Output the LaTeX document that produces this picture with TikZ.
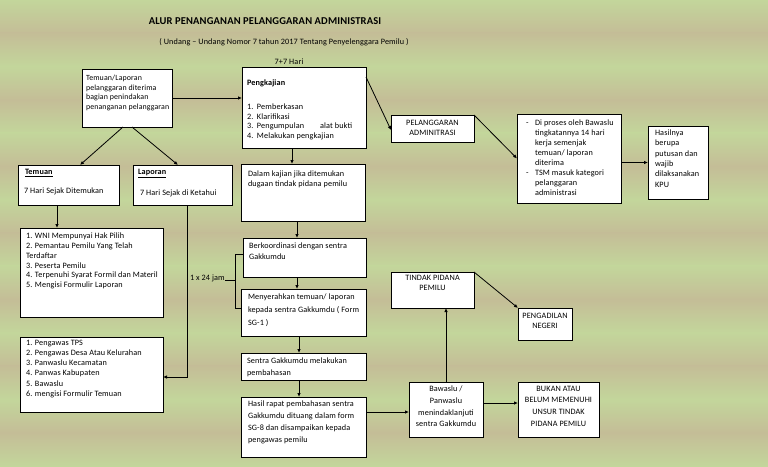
\documentclass[tikz,border=0pt]{standalone}
\usepackage{fontspec}
\setmainfont{Carlito}[LetterSpace=1.5]
\usetikzlibrary{arrows.meta,calc}
\definecolor{bggreen}{HTML}{C3D69B}
\definecolor{bgtan}{HTML}{C4BD97}
\begin{document}
\begin{tikzpicture}[x=1pt,y=-1pt,
 box/.style={draw=black,line width=0.9pt,fill=white,inner sep=0pt,outer sep=0pt,anchor=north west},
 txt/.style={inner sep=0pt,outer sep=0pt,align=left,anchor=north west,font=\fontsize{8.2}{#1}\selectfont},
 txt/.default=9.8,
 ctxt/.style={inner sep=0pt,outer sep=0pt,align=center,anchor=north,font=\fontsize{8.2}{#1}\selectfont},
 ctxt/.default=10,
 arr/.style={line width=0.8pt,-{Latex[length=4pt,width=3.5pt]}},
 ln/.style={line width=0.8pt}]
\useasboundingbox (0,0) rectangle (768,466);
\foreach \k in {0,...,6}{
 \pgfmathsetmacro\ya{66.571*\k}
 \pgfmathsetmacro\yb{66.571*\k+33.286}
 \pgfmathsetmacro\yc{66.571*(\k+1)}
 \shade[top color=bggreen,bottom color=bgtan] (-1,\ya-0.3) rectangle (769,\yb+0.3);
 \shade[top color=bgtan,bottom color=bggreen] (-1,\yb-0.3) rectangle (769,\yc+0.3);
}
% titles
\node[inner sep=0pt,font=\fontsize{10.5}{12}\selectfont\bfseries] (title) at (265,21) {ALUR PENANGANAN PELANGGARAN ADMINISTRASI};
\node[inner sep=0pt,font=\fontsize{8.2}{10}\selectfont] (sub) at (284,42) {( Undang -- Undang Nomor 7 tahun 2017 Tentang Penyelenggara Pemilu )};
\node[inner sep=0pt,font=\fontsize{8.2}{10}\selectfont] (hari) at (289,62) {7+7 Hari};

% boxes
\node[box,minimum width=90pt,minimum height=58pt] (A) at (82,69) {};
\node[box,minimum width=124pt,minimum height=81pt] (peng) at (242,67) {};
\node[box,minimum width=101pt,minimum height=40pt] (tem) at (18,165) {};
\node[box,minimum width=99pt,minimum height=40pt] (lap) at (133,165) {};
\node[box,minimum width=143pt,minimum height=89pt] (l1) at (20,228) {};
\node[box,minimum width=143pt,minimum height=75pt] (l2) at (20,337) {};
\node[box,minimum width=124pt,minimum height=57pt] (dal) at (241,164) {};
\node[box,minimum width=123pt,minimum height=39pt] (berk) at (243,238) {};
\node[box,minimum width=125pt,minimum height=47pt] (meny) at (241,289) {};
\node[box,minimum width=125pt,minimum height=27pt] (sent) at (241,353) {};
\node[box,minimum width=125pt,minimum height=60pt] (hasil) at (241,397) {};
\node[box,minimum width=74pt,minimum height=55pt] (baw) at (409,382) {};
\node[box,minimum width=81pt,minimum height=55pt] (bukan) at (518,382) {};
\node[box,minimum width=83pt,minimum height=36pt] (tindak) at (391,272) {};
\node[box,minimum width=54pt,minimum height=32pt] (pn) at (518,308) {};
\node[box,minimum width=83pt,minimum height=27pt] (pel) at (391,115) {};
\node[box,minimum width=104pt,minimum height=89pt] (dip) at (517,114) {};
\node[box,minimum width=60pt,minimum height=73pt] (has2) at (648,126) {};

% texts
\node[txt=9.6,font=\fontsize{7.9}{9.6}\selectfont] (tA) at (86,75) {Temuan/Laporan\\pelanggaran diterima\\bagian penindakan\\penanganan pelanggaran};
\node[txt] (tpeng) at (247,80) {\textbf{Pengkajian}};
\node[txt=9.5] (tpengl) at (247,104) {\makebox[10pt][l]{1.}Pemberkasan\\\makebox[10pt][l]{2.}Klarifikasi\\\makebox[10pt][l]{3.}Pengumpulan\hspace{16pt}alat bukti\\\makebox[10pt][l]{4.}Melakukan pengkajian};
\node[txt] (ttem1) at (25,169) {\underline{\textbf{Temuan}}};
\node[txt] (ttem2) at (24,188) {7 Hari Sejak Ditemukan};
\node[txt] (tlap1) at (138,169) {\underline{\textbf{Laporan}}};
\node[txt] (tlap2) at (140,190) {7 Hari Sejak di Ketahui};
\node[txt=9.8] (tl1) at (26,233) {1. WNI Mempunyai Hak Pilih\\2. Pemantau Pemilu Yang Telah\\Terdaftar\\3. Peserta Pemilu\\4. Terpenuhi Syarat Formil dan Materil\\5. Mengisi Formulir Laporan};
\node[txt=10.2] (tl2) at (26,340) {1. Pengawas TPS\\2. Pengawas Desa Atau Kelurahan\\3. Panwaslu Kecamatan\\4. Panwas Kabupaten\\5. Bawaslu\\6. mengisi Formulir Temuan};
\node[txt=10] (tdal) at (248,171) {Dalam kajian jika ditemukan\\dugaan tindak pidana pemilu};
\node[txt=11] (tberk) at (249,243) {Berkoordinasi dengan sentra\\Gakkumdu};
\node[txt=13] (tmeny) at (248,294) {Menyerahkan temuan/ laporan\\kepada sentra Gakkumdu ( Form\\SG-1 )};
\node[txt=12] (tsent) at (247,358) {Sentra Gakkumdu melakukan\\pembahasan};
\node[txt=12] (thasil) at (248,401) {Hasil rapat pembahasan sentra\\Gakkumdu dituang dalam form\\SG-8 dan disampaikan kepada\\pengawas pemilu};
\node[ctxt=11.7] (tbaw) at (446,386) {Bawaslu /\\Panwaslu\\menindaklanjuti\\sentra Gakkumdu};
\node[ctxt=11.7] (tbukan) at (558.5,386) {BUKAN ATAU\\BELUM MEMENUHI\\UNSUR TINDAK\\PIDANA PEMILU};
\node[ctxt] (ttindak) at (432.5,275) {TINDAK PIDANA\\PEMILU};
\node[ctxt] (tpn) at (545,313) {PENGADILAN\\NEGERI};
\node[ctxt] (tpel) at (432.5,120) {PELANGGARAN\\ADMINITRASI};
\node[txt=10] (tdip) at (526,120) {\makebox[9pt][l]{-}Di proses oleh Bawaslu\\\hspace*{9pt}tingkatannya 14 hari\\\hspace*{9pt}kerja semenjak\\\hspace*{9pt}temuan/ laporan\\\hspace*{9pt}diterima\\\makebox[9pt][l]{-}TSM masuk kategori\\\hspace*{9pt}pelanggaran\\\hspace*{9pt}administrasi};
\node[txt=10.3] (thas2) at (655,130) {Hasilnya\\berupa\\putusan dan\\wajib\\dilaksanakan\\KPU};
\node[inner sep=0pt,outer sep=0pt,anchor=base west,font=\fontsize{8.2}{10}\selectfont] (jam) at (190,280) {1 x 24 jam};

% connector anchor points
\coordinate (c1) at ($(tem.south)+(-11.5,0)$);
\coordinate (c2) at ($(peng.south)+(-12,0)$);
\coordinate (c3) at ($(dal.south)+(-6,0)$);
\coordinate (c4) at ($(berk.south)+(-7.5,0)$);
\coordinate (c5) at ($(meny.south)+(-4.5,0)$);
\coordinate (c6) at ($(sent.south)+(-4.5,0)$);
\coordinate (lapc) at ($(lap.south)+(4.5,0)$);
\coordinate (bawin) at ($(baw.west)+(0,2.5)$);
% connectors
\draw[arr] (A.east) -- (peng.west |- A.east);
\draw[arr] ($(A.south)+(-4,0)$) -- ($(tem.north)+(11.5,0)$);
\draw[arr] ($(A.south)+(5,0)$) -- ($(lap.north)+(-4.5,0)$);
\draw[arr] (c1) -- (c1 |- l1.north);
\draw[arr] (lapc) |- ($(l2.east)+(0,2.5)$);
\draw[arr] (c2) -- (c2 |- dal.north);
\draw[arr] (c3) -- (c3 |- berk.north);
\draw[arr] (c4) -- (c4 |- meny.north);
\draw[arr] (c5) -- (c5 |- sent.north);
\draw[arr] (c6) -- (c6 |- hasil.north);
\draw[ln] ($(berk.west)+(0,-3.5)$) -- ++(-8,0) coordinate (brk) |- ($(meny.west)+(0,-4.5)$);
\draw[ln] (jam.base east) -- (jam.base east -| brk);
\draw[arr] (hasil.east |- bawin) -- (bawin);
\draw[arr] ($(baw.east)+(0,-6.5)$) -- ($(bukan.west)+(0,-6.5)$);
\draw[arr] (baw.north) -- (baw.north |- tindak.south);
\draw[arr] (tindak.north east) -- (pn.north west);
\draw[arr] ($(peng.north east)+(0,10)$) -- ($(pel.west)+(0,1.5)$);
\draw[arr] (pel.north east) -- (dip.west);
\draw[arr] (dip.east |- has2.west) -- (has2.west);
\end{tikzpicture}
\end{document}
